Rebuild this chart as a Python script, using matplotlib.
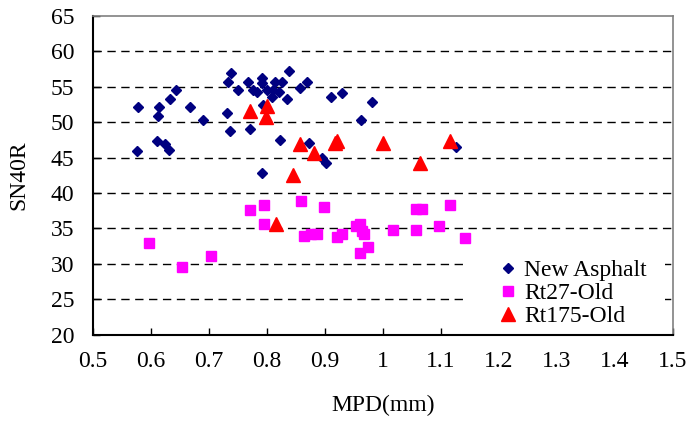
import matplotlib
import matplotlib.pyplot as plt
from matplotlib.patches import Rectangle

matplotlib.use('agg')

plt.rcParams['font.family'] = ['Liberation Serif', 'DejaVu Serif']

# New Asphalt (diamonds)
asphalt_mpd = [0.579, 0.576, 0.615, 0.613, 0.634, 0.644, 0.611, 0.624, 0.631,
               0.668, 0.690, 0.731, 0.737, 0.739, 0.734, 0.750, 0.768, 0.771,
               0.777, 0.784, 0.792, 0.792, 0.794, 0.800, 0.810, 0.811, 0.815,
               0.821, 0.827, 0.835, 0.839, 0.823, 0.792, 0.857, 0.869, 0.873,
               0.910, 0.929, 0.982, 0.963, 0.895, 0.903, 1.126]
asphalt_sn = [52.2, 45.9, 52.1, 50.9, 53.3, 54.6, 47.3, 46.9, 46.1,
              52.2, 50.3, 51.3, 48.7, 57.0, 55.7, 54.6, 55.7, 49.0,
              54.5, 54.2, 56.3, 55.6, 52.4, 54.6, 53.6, 54.6, 55.7,
              54.2, 55.7, 53.3, 57.2, 47.5, 42.9, 54.8, 55.7, 47.0,
              53.5, 54.1, 52.8, 50.3, 44.9, 44.3, 46.5]

# Rt27-Old (squares)
rt27_mpd = [0.598, 0.654, 0.704, 0.772, 0.796, 0.796, 0.859, 0.864, 0.877,
            0.886, 0.899, 0.921, 0.930, 0.954, 0.960, 0.965, 0.968, 0.960,
            0.975, 1.017, 1.057, 1.068, 1.057, 1.096, 1.115, 1.141]
rt27_sn = [32.9, 29.6, 31.1, 37.6, 38.3, 35.7, 38.9, 33.9, 34.2,
           34.2, 38.1, 33.8, 34.2, 35.3, 35.6, 34.6, 34.2, 31.6,
           32.4, 34.8, 37.8, 37.8, 34.8, 35.4, 38.3, 33.7]

# Rt175-Old (triangles)
rt175_mpd = [0.771, 0.800, 0.798, 0.857, 0.881, 0.845, 0.917, 0.921,
             1.000, 1.064, 1.116, 0.816]
rt175_sn = [51.6, 52.3, 50.7, 46.9, 45.6, 42.6, 47.0, 47.3,
            47.1, 44.3, 47.4, 35.6]

x_ticks = [0.5, 0.6, 0.7, 0.8, 0.9, 1.0, 1.1, 1.2, 1.3, 1.4, 1.5]
x_labels = ['0.5', '0.6', '0.7', '0.8', '0.9', '1', '1.1', '1.2', '1.3', '1.4', '1.5']
y_ticks = [20, 25, 30, 35, 40, 45, 50, 55, 60, 65]

fig = plt.figure(figsize=(6.89, 4.23), dpi=100)
ax = fig.add_axes([0.1343, 0.2087, 0.8425, 0.7535])

ax.plot(asphalt_mpd, asphalt_sn, linestyle='none', marker='D', markersize=5.2,
        color='#000080', label='New Asphalt', zorder=3)
ax.plot(rt27_mpd, rt27_sn, linestyle='none', marker='s', markersize=6.5,
        color='#FF00FF', label='Rt27-Old', zorder=3)
ax.plot(rt175_mpd, rt175_sn, linestyle='none', marker='^', markersize=10,
        color='#FF0000', label='Rt175-Old', zorder=4)

# Dashed gridlines
for y in y_ticks[1:-1]:
    ax.axhline(y, color='black', linestyle=(0, (6, 4)), linewidth=1, zorder=1)

# White legend area hides the gridlines behind it
ax.add_patch(Rectangle((0.645, 0.0), 0.341, 0.28, transform=ax.transAxes,
                       facecolor='white', edgecolor='none', zorder=2))

ax.set_xlim(0.5, 1.5)
ax.set_ylim(20, 65)
ax.set_xticks(x_ticks)
ax.set_xticklabels(x_labels)
ax.set_yticks(y_ticks)
ax.tick_params(direction='in', length=5, width=1, labelsize=17, color='black')
ax.tick_params(axis='y', pad=13)
ax.tick_params(axis='x', pad=12)

for side in ['left', 'bottom']:
    ax.spines[side].set_color('black')
    ax.spines[side].set_linewidth(1.5)
for side in ['top', 'right']:
    ax.spines[side].set_color('#808080')
    ax.spines[side].set_linewidth(1.2)

ax.set_xlabel('MPD(mm)', fontsize=17)
ax.set_ylabel('SN40R', fontsize=17)
ax.xaxis.set_label_coords(0.5, -0.19)
ax.yaxis.set_label_coords(-0.108, 0.5)

leg = ax.legend(loc='lower left', bbox_to_anchor=(0.6946, 0.024), fontsize=17,
                frameon=False, handletextpad=0.2, handlelength=1.0,
                labelspacing=0.06, borderpad=0.0, borderaxespad=0.0)
leg.set_zorder(5)

plt.savefig('out.png', dpi=100)
